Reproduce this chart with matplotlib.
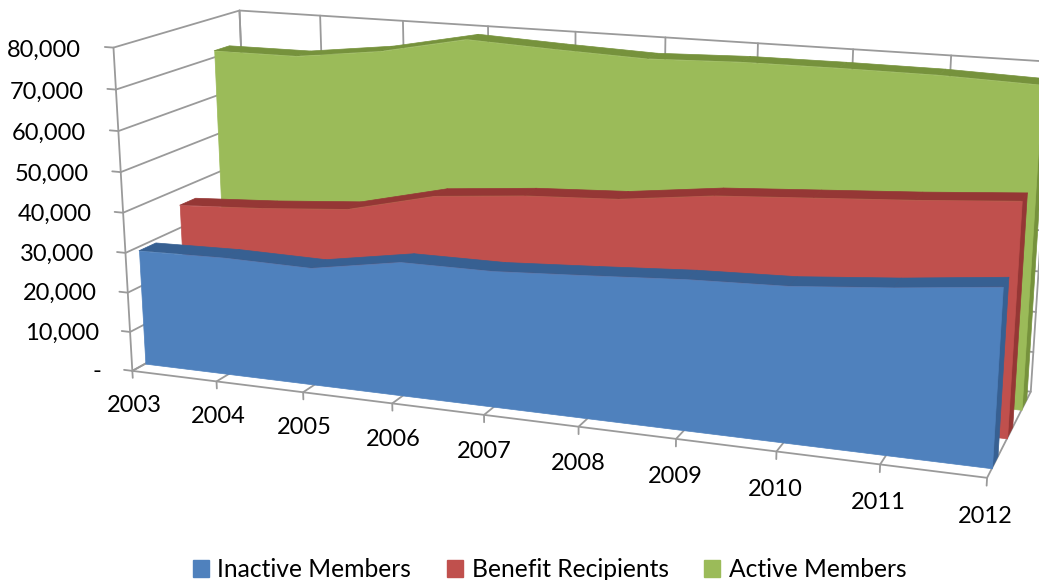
import numpy as np
from matplotlib import pyplot as plt
from matplotlib.patches import Patch
from mpl_toolkits.mplot3d import proj3d
from mpl_toolkits.mplot3d.art3d import Poly3DCollection

plt.rcParams['font.family'] = ['Lato', 'DejaVu Sans']

years = ['2003', '2004', '2005', '2006', '2007', '2008', '2009', '2010', '2011', '2012']
inactive = [29000, 29500, 29200, 32900, 33000, 34300, 35700, 36500, 38500, 41000]
recipients = [35800, 37100, 38900, 44200, 46300, 47500, 50300, 51800, 53300, 55100]
active = [71700, 71800, 74500, 78900, 77900, 77100, 77800, 77900, 77800, 77100]
value_ticks = [0, 10000, 20000, 30000, 40000, 50000, 60000, 70000, 80000]
value_labels = ['-', '10,000', '20,000', '30,000', '40,000', '50,000', '60,000', '70,000', '80,000']

WIDTH, HEIGHT = 1039, 580
X_MAX, Z_MAX = 9, 80000

fig = plt.figure(figsize=(WIDTH / 100, HEIGHT / 100), dpi=100)
# tall axes box, so the square 3d box covers the whole figure
ax = fig.add_axes([0, -0.5, 1, 2], projection='3d')
ax.set_axis_off()
ax.computed_zorder = False
ax.patch.set_alpha(0)
ax.set_proj_type('ortho')  # persp mode drops line points by depth
ax.set_xlim(0, X_MAX)
ax.set_ylim(0, 1)
ax.set_zlim(0, Z_MAX)
ax.apply_aspect()

# corners of the chart box (x, depth, value) and where they sit in the image
box_corners = [(0, 0, 0), (0, 0, 1), (0, 1, 1), (0, 1, 0), (1, 0, 0), (1, 1, 0), (1, 1, 1)]
box_pixels = [(132, 372), (113, 49), (240, 10), (252, 303), (988, 475), (1030, 395), (1052, 61)]


def fit_view():
    rows = []
    for (x, y, z), (px, py) in zip(box_corners, box_pixels):
        p = [x, y, z, 1]
        dy = HEIGHT - py
        rows.append(p + [0, 0, 0, 0] + [-px * v for v in p])
        rows.append([0, 0, 0, 0] + p + [-dy * v for v in p])
    P = np.linalg.svd(np.array(rows))[2][-1].reshape(3, 4)
    P = ax.transData.inverted().get_matrix() @ P
    P = P @ np.diag([1 / X_MAX, 1, 1 / Z_MAX, 1])
    depth = 0.5 * P[2] + [0, 0.01 * abs(P[2, 3]), 0, 0]
    return np.vstack([P[0], P[1], depth, P[2]])


view = fit_view()
ax.get_proj = lambda: view

grid = dict(color='#9a9a9a', lw=1.3, zorder=1, solid_capstyle='round')
xs = np.arange(len(years))

# walls and floor
for v in value_ticks:
    ax.plot([-0.1, 0, 0, X_MAX], [0, 0, 1, 1], [v, v, v, v], **grid)
for x in xs:
    ax.plot([x, x, x, x], [0, 0, 1, 1], [-1800, 0, 0, Z_MAX], **grid)
ax.plot([0, 0], [0, 0], [0, Z_MAX], **grid)
ax.plot([0, X_MAX], [0, 0], [0, 0], **grid)
ax.plot([0, 0], [1, 1], [0, Z_MAX], **grid)


def slab(values, y0, y1, face, dark, z):
    # right end and top strip first, front face over them
    top = []
    for i in range(len(values) - 1):
        top.append([(xs[i], y0, values[i]), (xs[i + 1], y0, values[i + 1]),
                     (xs[i + 1], y1, values[i + 1]), (xs[i], y1, values[i])])
    end = [(X_MAX, y0, 0), (X_MAX, y1, 0), (X_MAX, y1, values[-1]), (X_MAX, y0, values[-1])]
    front = [(0, y0, 0)] + [(xs[i], y0, values[i]) for i in range(len(values))] + [(X_MAX, y0, 0)]
    ax.add_collection3d(Poly3DCollection(top + [end], facecolor=dark, edgecolor=dark, linewidth=0.5, zorder=z))
    ax.add_collection3d(Poly3DCollection([front], facecolor=face, edgecolor=face, linewidth=0.5, zorder=z + 0.5))


slab(active, 0.77, 0.90, '#9BBB59', '#76923C', 3)
slab(recipients, 0.43, 0.56, '#C0504D', '#953735', 5)
slab(inactive, 0.10, 0.23, '#4F81BD', '#376092', 7)


def tick_text(x, z, label, ha):
    # flat text on the figure, placed where the 3d point lands
    u, v, _ = proj3d.proj_transform(x, 0, z, view)
    fx, fy = fig.transFigure.inverted().transform(ax.transData.transform((u, v)))
    fig.text(fx, fy, label, fontsize=17, ha=ha, va='center', color='black')


for x, label in zip(xs, years):
    tick_text(x, -9000, label, 'center')
for v, label in zip(value_ticks, value_labels):
    tick_text(-0.38, v - 1200, label, 'right')

handles = [Patch(color='#4F81BD', label='Inactive Members'),
           Patch(color='#C0504D', label='Benefit Recipients'),
           Patch(color='#9BBB59', label='Active Members')]
fig.legend(handles=handles, loc='lower center', ncol=3, frameon=False, fontsize=17.7,
           bbox_to_anchor=(0.529, -0.04), handlelength=0.65, handleheight=0.65,
           handletextpad=0.35, columnspacing=1.45)

fig.savefig('out.png', dpi=100)
